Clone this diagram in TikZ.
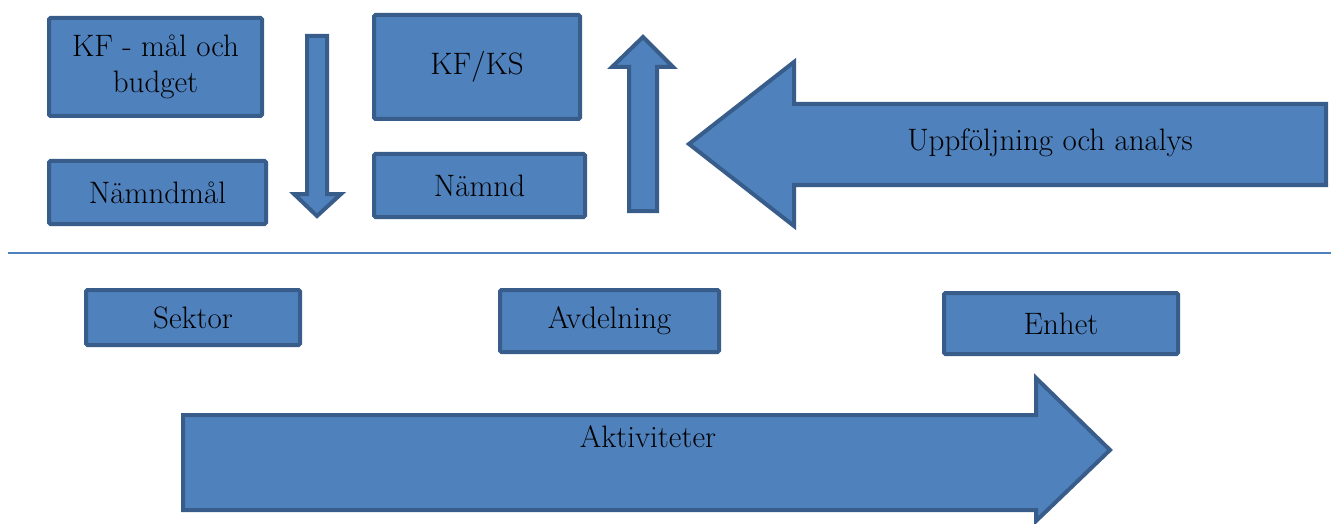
\documentclass[tikz,border=0pt]{standalone}
\usepackage{tikz}
\usetikzlibrary{positioning}

\definecolor{boxfill}{HTML}{4F81BD}
\definecolor{boxline}{HTML}{385D8A}

\begin{document}
\begin{tikzpicture}[x=1pt, y=-1pt, font=\fontsize{31}{36}\selectfont,
  box/.style={draw=boxline, fill=boxfill, line width=4pt, rounded corners=1.5pt, align=center, inner sep=0pt},
  blockarrow/.style={draw=boxline, fill=boxfill, line width=4pt, line join=miter}]
\useasboundingbox (0,0) rectangle (1331,524);
% upper level
\node[box, minimum width=213, minimum height=98] (kf) at (155.5,67) {KF - mål och\\budget};
\node[box, minimum width=217, minimum height=63] (namndmal) at (157.5,192.5) {Nämndmål};
\node[box, minimum width=206, minimum height=104] (kfks) at (477,67) {KF/KS};
\node[box, minimum width=211, minimum height=63] (namnd) at (479.5,185.5) {Nämnd};
\draw[blockarrow] (307,36) -- (327,36) -- (327,194) -- (341,194) -- (317,216) -- (294,194) -- (307,194) -- cycle;
\draw[blockarrow] (629,211) -- (657,211) -- (657,67) -- (673,67) -- (643,37) -- (612,67) -- (629,67) -- cycle;
\draw[blockarrow] (1326,104) -- (794,104) -- (794,62) -- (689,144) -- (794,226) -- (794,185) -- (1326,185) -- cycle;
\node (uppf) at (1050,143) {Uppföljning och analys};
% separator
\coordinate (sepl) at (8,253);
\coordinate (sepr) at (1331,253);
\draw[boxfill, line width=2pt] (sepl) -- (sepr);
% lower level
\node[box, minimum width=214, minimum height=55] (sektor) at (193,317.5) {Sektor};
\node[box, minimum width=219, minimum height=62] (avd) at (609.5,321) {Avdelning};
\node[box, minimum width=234, minimum height=61] (enhet) at (1061,323.5) {Enhet};
\draw[blockarrow] (183,415) -- (1036,415) -- (1036,378) -- (1110,450) -- (1036,521) -- (1036,510) -- (183,510) -- cycle;
\node (akt) at (648,437) {Aktiviteter};
\end{tikzpicture}
\end{document}
